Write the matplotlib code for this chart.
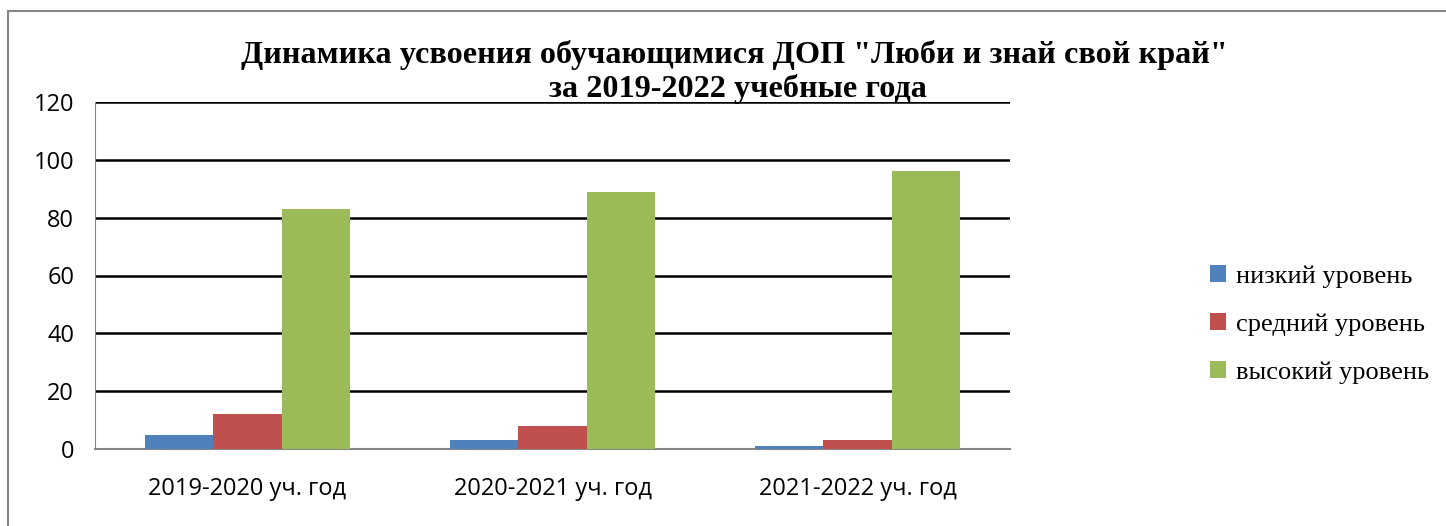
import numpy as np
import matplotlib
matplotlib.use("Agg")
import matplotlib.pyplot as plt
from matplotlib.patches import Rectangle

# data
years = ["2019-2020 уч. год", "2020-2021 уч. год", "2021-2022 уч. год"]
series_names = ["низкий уровень", "средний уровень", "высокий уровень"]
low = [5, 3, 1]
mid = [12, 8, 3]
high = [83, 89, 96]
colors = ["#4f81bd", "#c0504d", "#9bbb59"]
yticks = [0, 20, 40, 60, 80, 100, 120]

fig = plt.figure(figsize=(14.46, 5.26), dpi=100)
ax = fig.add_axes([95 / 1446, 77 / 526, 915 / 1446, 347 / 526])

x = np.arange(len(years))
w = 0.223
for i, (vals, name) in enumerate(zip([low, mid, high], series_names)):
    ax.bar(x + (i - 1) * w, vals, w, color=colors[i], label=name, zorder=3)

ax.set_xlim(-0.5, 2.5)
ax.set_ylim(0, 120)
ax.set_yticks(yticks)
ax.set_yticklabels([str(v) for v in yticks], fontsize=17, family="Open Sans")
ax.set_xticks(x)
ax.set_xticklabels(years, fontsize=17, family="Open Sans")
ax.tick_params(axis="both", length=0)
ax.tick_params(axis="y", pad=15)
ax.tick_params(axis="x", pad=20)

for v in yticks[1:]:
    ax.axhline(v, color="black", lw=1.8, zorder=1)
for s in ["top", "right"]:
    ax.spines[s].set_visible(False)
ax.spines["left"].set_color("#868686")
ax.spines["bottom"].set_color("#868686")
ax.spines["bottom"].set_linewidth(1.5)

fig.text(0.508, 0.880, 'Динамика усвоения обучающимися ДОП "Люби и знай свой край"',
         ha="center", va="baseline", fontsize=23.2, fontweight="bold", family="Liberation Serif")
fig.text(0.510, 0.815, "за 2019-2022 учебные года",
         ha="center", va="baseline", fontsize=23.2, fontweight="bold", family="Liberation Serif")

leg = fig.legend(loc="center left", bbox_to_anchor=(1186 / 1446, 0.383), frameon=False,
                 prop={"family": "Liberation Serif", "size": 19},
                 handlelength=0.6, handleheight=0.6, handletextpad=0.4, labelspacing=0.95)

# outer chart border (partly cut off on the right and bottom)
fig.patches.append(Rectangle((8 / 1446, -0.5), 2, 1.5 - 11 / 526, transform=fig.transFigure,
                             fill=False, edgecolor="#868686", lw=1.5))

fig.savefig("out.png", dpi=100)
